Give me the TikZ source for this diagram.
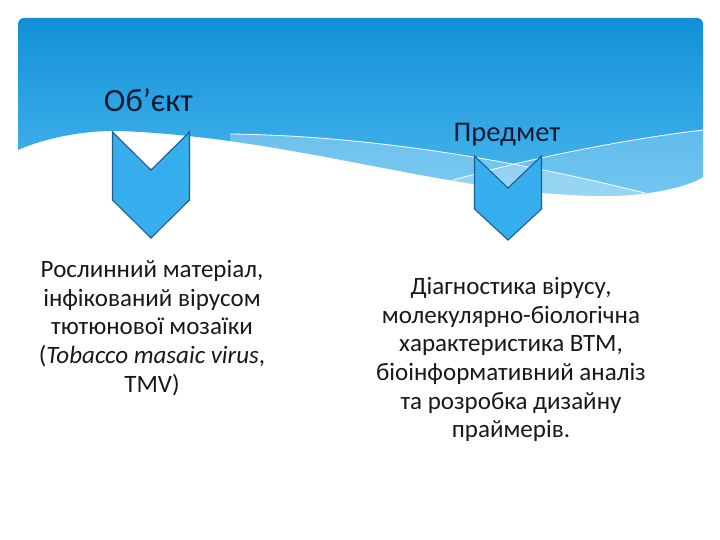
\documentclass[tikz,border=0pt]{standalone}
\usepackage{fontspec}
\setmainfont{Carlito}
\usetikzlibrary{positioning}

\definecolor{bandtop}{HTML}{1190D8}
\definecolor{bandlow}{HTML}{4AB7EE}
\definecolor{chevfill}{HTML}{36AEEE}
\definecolor{chevline}{HTML}{1D5E8A}
\definecolor{headink}{HTML}{0E1A33}

\newcommand\bandshape{(18,150) [rounded corners=6pt] -- (18,18) -- (703,18) [sharp corners] -- (703,177)
  .. controls (690,186) and (650,196) .. (605,196)
  .. controls (450,195) and (300,138) .. (120,131)
  .. controls (80,130) and (40,140) .. (18,150) -- cycle}

\tikzset{
  chev/.style={fill=chevfill, draw=chevline, line width=1.1pt, line join=miter},
  head/.style={inner sep=0, text=headink},
  body/.style={inner sep=0, align=center, text=black!90, font=\fontsize{25}{28.7}\selectfont},
  wave/.style={white, line width=0.8pt}
}

\begin{document}
\begin{tikzpicture}[x=1pt,y=-1pt]
\useasboundingbox (0,0) rectangle (720,540);
\fill[white] (0,0) rectangle (720,540);

% header band
\shade[top color=bandtop, bottom color=bandlow] \bandshape;
\begin{scope}
\clip \bandshape;
\fill[white, opacity=0.28] (230,134) .. controls (400,136) and (560,172) .. (645,193) -- (720,300) -- (230,300) -- cycle;
\fill[white, opacity=0.22] (440,184) .. controls (520,160) and (620,140) .. (703,130) -- (720,300) -- (440,300) -- cycle;
\draw[wave] (230,134) .. controls (400,136) and (560,172) .. (645,193);
\draw[wave] (440,184) .. controls (520,160) and (620,140) .. (703,130);
\end{scope}

% chevrons
\foreach \cx/\yt/\yn/\ys/\yp/\hw in {151/132/170/200/238/38.5, 508/156/188/209/240/33.5}{
\draw[chev] (\cx-\hw,\yt) -- (\cx,\yn) -- (\cx+\hw,\yt) -- (\cx+\hw,\ys) -- (\cx,\yp) -- (\cx-\hw,\ys) -- cycle;
}

\node[head, anchor=base, font=\fontsize{32.5}{38}\selectfont] (obj) at (148.5,111.7) {Об’єкт};
\node[head, anchor=base, font=\fontsize{28.5}{34}\selectfont] (predm) at (507,141.7) {Предмет};

\node[body, anchor=north] (objtext) at (152,260) {Рослинний матеріал,\\інфікований вірусом\\тютюнової мозаїки\\(\textit{Tobacco masaic virus},\\TMV)};
\node[body, anchor=north] (predmtext) at (511,277) {Діагностика вірусу,\\молекулярно-біологічна\\характеристика ВТМ,\\біоінформативний аналіз\\та розробка дизайну\\праймерів.};
\end{tikzpicture}
\end{document}
